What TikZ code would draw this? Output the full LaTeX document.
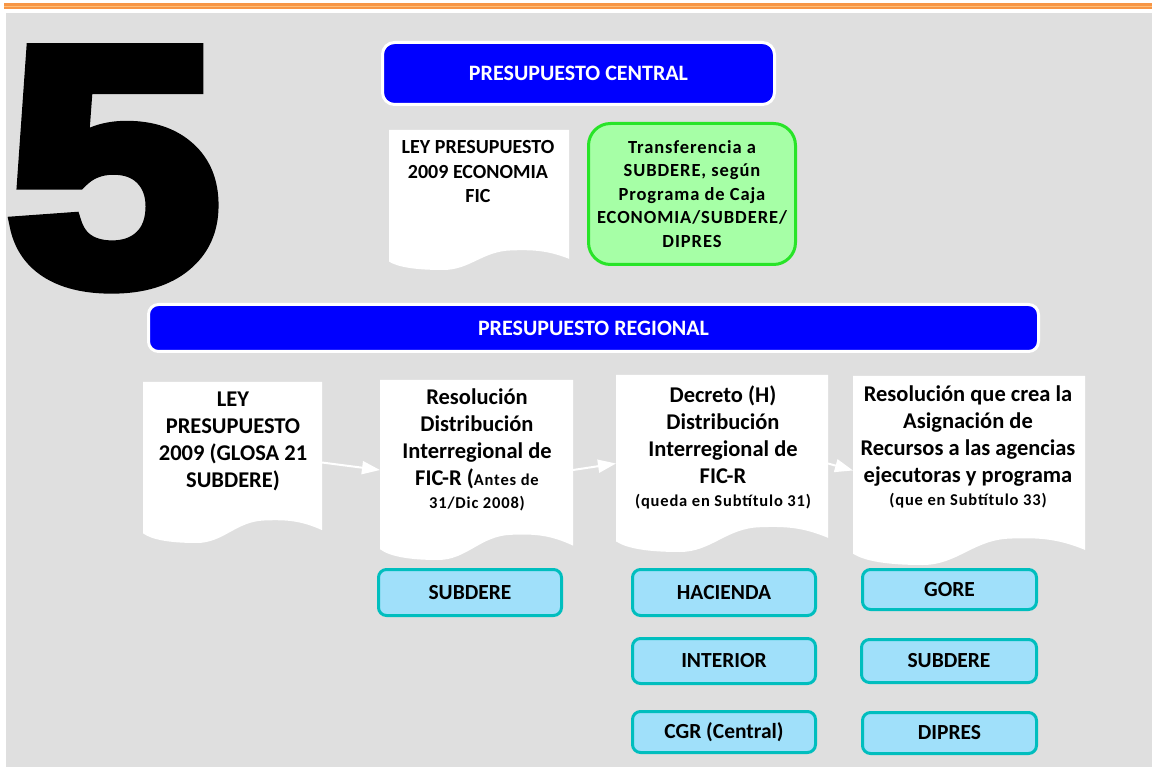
\documentclass[tikz,border=0pt]{standalone}
\usepackage{fontspec}
\setmainfont{Carlito}
\newfontfamily\spc[LetterSpace=5]{Carlito}
\newfontfamily\fivefont[BoldFeatures={FakeBold=5}]{Liberation Sans}
\usetikzlibrary{arrows.meta}
\definecolor{bg}{RGB}{223,223,223}
\definecolor{orng}{RGB}{247,150,70}
\definecolor{orngl}{RGB}{255,190,120}
\definecolor{pblue}{RGB}{0,0,255}
\definecolor{lgreen}{RGB}{166,255,166}
\definecolor{dgreen}{RGB}{40,228,40}
\definecolor{lblue}{RGB}{160,224,250}
\definecolor{tealb}{RGB}{0,190,190}
\newcommand\docfill[4]{%
  \fill[white, shift={(#1pt,-#2pt)}, x=#3pt, y=-#4pt] (0,0) -- (1,0) -- (1,0.92)
    .. controls (0.88,0.86) and (0.8,0.855) .. (0.68,0.86)
    .. controls (0.52,0.865) and (0.45,1) .. (0.3,1)
    .. controls (0.15,1) and (0.05,0.98) .. (0,0.94) -- cycle;}
\begin{document}
\begin{tikzpicture}[x=1pt,y=-1pt,
  bar/.style={fill=pblue, draw=white, line width=3pt, rounded corners=12pt, text=white,
     font=\bfseries\fontsize{22}{26}\selectfont, inner sep=0},
  anchorbox/.style={anchor=north west, inner sep=0, outer sep=0},
  doctext/.style={align=center, inner sep=0, font=\bfseries\fontsize{22.5}{27}\selectfont},
  orgbox/.style={fill=lblue, draw=tealb, line width=3pt, rounded corners=8pt,
     font=\bfseries\fontsize{21.5}{26}\selectfont, inner sep=0},
  arr/.style={draw=white, line width=2pt, -{Triangle[length=18pt,width=13pt]}}]
\useasboundingbox (0,0) rectangle (1152,767);
\fill[white] (0,0) rectangle (1152,767);
\fill[bg] (6,13) rectangle (1152,767);
\fill[orng] (4,3.5) rectangle (1152,9.5);
\fill[orngl] (4,5.8) rectangle (1152,7.3);
% big number
\node[anchor=base west, inner sep=0, xscale=1.14, font=\fivefont\bfseries\fontsize{335}{335}\selectfont] (five) at (7,282) {5};
% central
\node[bar, minimum width=392pt, minimum height=62pt] (pc) at (578.5,73.5) {PRESUPUESTO CENTRAL};
\docfill{389}{130}{180}{140}
\node[anchorbox, minimum width=180pt, minimum height=140pt] (d0) at (389,130) {};
\node[align=center, inner sep=0, font=\bfseries\fontsize{20}{24.5}\selectfont] (t0) at (478,172) {LEY PRESUPUESTO\\2009 ECONOMIA\\FIC};
\node[fill=lgreen, draw=dgreen, line width=3pt, rounded corners=22pt, minimum width=207pt, minimum height=141pt, inner sep=0,
  align=center, font=\spc\bfseries\fontsize{18.5}{23.5}\selectfont] (tr) at (692,194)
  {Transferencia a\\SUBDERE, según\\Programa de Caja\\ECONOMIA/SUBDERE/\\DIPRES};
% regional
\node[bar, rounded corners=10pt, minimum width=890pt, minimum height=47pt] (pr) at (593.5,328) {PRESUPUESTO REGIONAL};
\docfill{143}{382}{179}{161}
\docfill{380}{380}{193}{180}
\docfill{616}{375}{212}{177}
\docfill{853}{376}{232}{189}
\node[anchorbox, minimum width=179pt, minimum height=161pt] (d1) at (143,382) {};
\node[anchorbox, minimum width=193pt, minimum height=180pt] (d2) at (380,380) {};
\node[anchorbox, minimum width=212pt, minimum height=177pt] (d3) at (616,375) {};
\node[anchorbox, minimum width=232pt, minimum height=189pt] (d4) at (853,376) {};
\node[doctext] (t1) at (233,441) {LEY\\PRESUPUESTO\\2009 (GLOSA 21\\SUBDERE)};
\node[doctext] (t2) at (477,450) {Resolución\\Distribución\\Interregional de\\FIC-R ({\spc\fontsize{16.5}{20}\selectfont Antes de}\\[-4pt]{\spc\fontsize{16.5}{20}\selectfont 31/Dic 2008)}};
\node[doctext] (t3) at (723,447) {Decreto (H)\\Distribución\\Interregional de\\FIC-R\\[-4pt]{\spc\fontsize{16.5}{20}\selectfont (queda en Subtítulo 31)}};
\node[doctext] (t4) at (968,447) {Resolución que crea la\\Asignación de\\Recursos a las agencias\\ejecutoras y programa\\[-4pt]{\spc\fontsize{16.5}{20}\selectfont (que en Subtítulo 33)}};
\draw[arr] (d1.east) -- (d2.west);
\draw[arr] (d2.east) -- (d3.west);
\draw[arr] (d3.east) -- (d4.west);
% organisations
\node[orgbox, minimum width=183pt, minimum height=46pt] (o1) at (470,592.5) {SUBDERE};
\node[orgbox, minimum width=183pt, minimum height=46pt] (o2) at (724,592.5) {HACIENDA};
\node[orgbox, minimum width=183pt, minimum height=45pt] (o3) at (724,661) {INTERIOR};
\node[orgbox, minimum width=183pt, minimum height=41pt] (o4) at (724,732) {CGR (Central)};
\node[orgbox, minimum width=174pt, minimum height=40pt] (o5) at (949.5,589.5) {GORE};
\node[orgbox, minimum width=175pt, minimum height=43pt] (o6) at (949,661) {SUBDERE};
\node[orgbox, minimum width=174pt, minimum height=41pt] (o7) at (949.5,733) {DIPRES};
\end{tikzpicture}
\end{document}
